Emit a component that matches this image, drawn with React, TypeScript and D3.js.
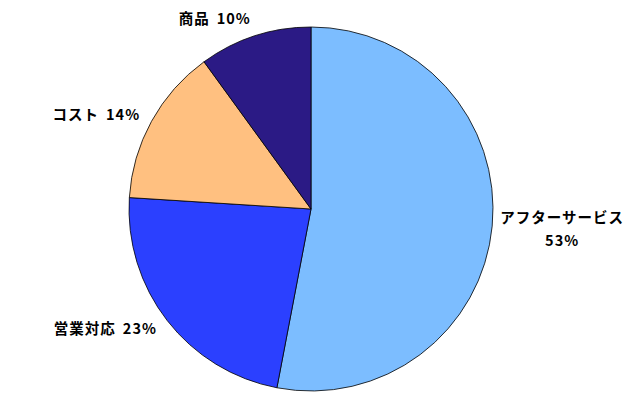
import * as d3 from 'd3';
import { useEffect, useRef } from 'react';

const categories = ['アフターサービス', '営業対応', 'コスト', '商品'];
const values = [53, 23, 14, 10];
const colors = ['#7cbdff', '#2b40ff', '#ffc080', '#2b1a85'];

const App: React.FC = () => {
  const ref = useRef<null | SVGSVGElement>(null);

  useEffect(() => {
    const width = 640;
    const height = 400;
    const cx = 311;
    const cy = 209;
    const radius = 182;

    const data = categories.map((name, i) => ({ name, value: values[i], color: colors[i] }));

    const pie = d3
      .pie<any>()
      .sort(null)
      .value((d: any) => d.value);

    const arc: any = d3.arc().innerRadius(0).outerRadius(radius);
    const arcs = pie(data);

    const svg = d3.select(ref.current);
    svg.selectAll('*').remove();
    svg.attr('width', width).attr('height', height);

    svg.append('rect').attr('width', width).attr('height', height).attr('fill', '#fff');

    const g = svg.append('g').attr('transform', `translate(${cx},${cy})`);

    // slices
    g.selectAll('path')
      .data(arcs)
      .join('path')
      .attr('fill', (d: any) => d.data.color)
      .attr('stroke', '#000')
      .attr('stroke-width', 0.8)
      .attr('d', arc);

    // labels, placed outside each slice at its mid angle
    const labelR = 195;
    const labels = g
      .append('g')
      .attr('font-family', '"Noto Sans CJK JP", sans-serif')
      .attr('font-weight', 'bold')
      .attr('font-size', 14.5)
      .attr('letter-spacing', 1)
      .attr('fill', '#000');

    arcs.forEach((d: any) => {
      const mid = (d.startAngle + d.endAngle) / 2;
      const x = Math.sin(mid) * labelR;
      const y = -Math.cos(mid) * labelR;
      const text = labels.append('text');
      if (x > 0) {
        // right side: name and percent on two centred lines
        text.attr('text-anchor', 'middle');
        text.append('tspan').attr('x', x + 57).attr('y', y - 4).text(d.data.name);
        text.append('tspan').attr('x', x + 57).attr('y', y + 19).text(`${d.data.value}%`);
      } else {
        text.attr('text-anchor', 'end').attr('x', x).attr('y', y + (y < -150 ? 0 : 5));
        text.append('tspan').text(d.data.name);
        text.append('tspan').attr('dx', 7).text(`${d.data.value}%`);
      }
    });
  }, []);

  return <svg ref={ref} style={{ position: 'absolute', left: 0, top: 0 }} />;
};

export default App;
